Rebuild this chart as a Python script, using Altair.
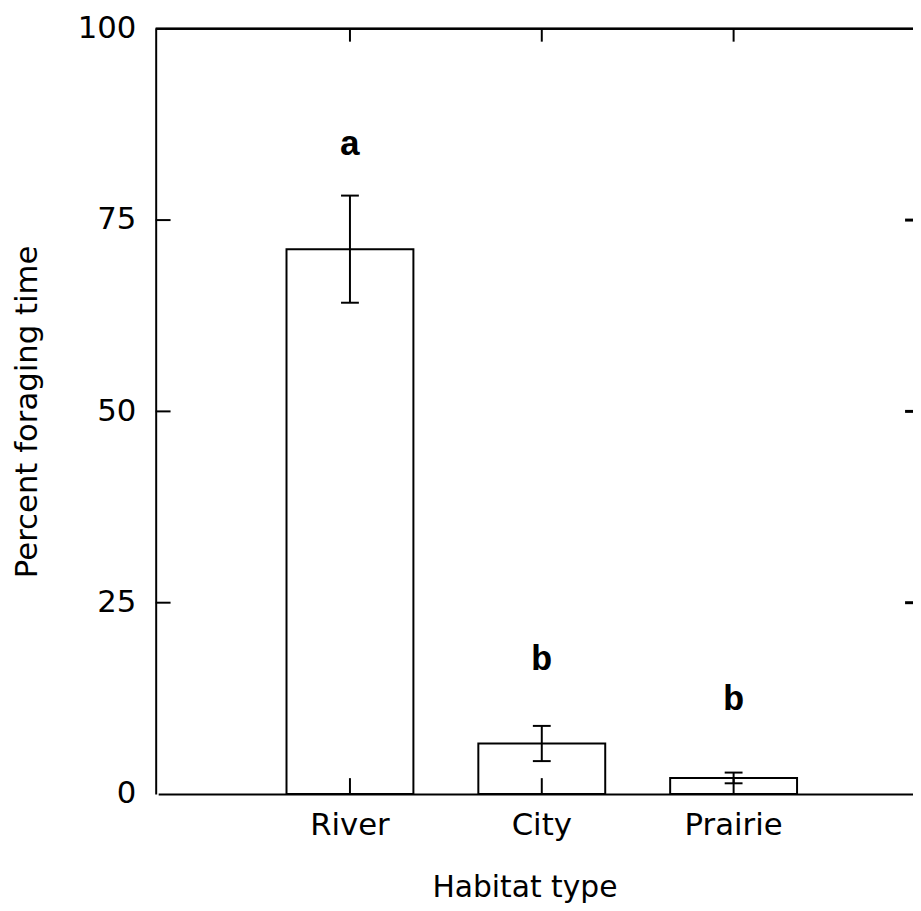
import altair as alt
import pandas as pd

habitats = ["River", "City", "Prairie"]
means = [71.2, 6.6, 2.1]
sems = [7.0, 2.3, 0.7]
letters = ["a", "b", "b"]
letter_y = [83.5, 16.2, 11.0]
y_tick_values = [0, 25, 50, 75, 100]
inner_tick_values = [25, 50, 75]

df = pd.DataFrame({
    "habitat": habitats,
    "mean": means,
    "low": [m - s for m, s in zip(means, sems)],
    "high": [m + s for m, s in zip(means, sems)],
    "letter": letters,
    "ly": letter_y,
})
ticks_df = pd.DataFrame({"v": inner_tick_values})

W, H = 764, 772
FONT = "DejaVu Sans"

xscale = alt.Scale(domain=habitats, range=[2.5, 776.5], paddingInner=0.3385, paddingOuter=0.669)
yscale = alt.Scale(domain=[0, 100], nice=False)

x_enc = alt.X("habitat:N", scale=xscale, sort=habitats,
              axis=alt.Axis(title="Habitat type", labelAngle=0, ticks=False, tickSize=0,
                            labelPadding=17, titleX=372, titleY=103,
                            titleBaseline="alphabetic", titleFontWeight="normal",
                            labelFont=FONT, labelFontSize=31, labelColor="black",
                            titleFont=FONT, titleFontSize=30, titleColor="black",
                            domainColor="black", domainWidth=2))
y_enc = alt.Y("mean:Q", scale=yscale,
              axis=alt.Axis(title="Percent foraging time", values=y_tick_values, ticks=False,
                            tickSize=0, labelPadding=20, grid=False, titleX=-120, titleY=386,
                            titleAngle=270, titleAlign="center", titleBaseline="alphabetic",
                            titleFontWeight="normal",
                            labelFont=FONT, labelFontSize=31, labelColor="black",
                            titleFont=FONT, titleFontSize=31, titleColor="black",
                            domainColor="black", domainWidth=2))

base = alt.Chart(df)

bars = base.mark_bar(fill="white", stroke="black", strokeWidth=2).encode(x=x_enc, y=y_enc)

err = base.mark_rule(color="black", strokeWidth=2).encode(
    x=alt.X("habitat:N", scale=xscale, sort=habitats),
    y=alt.Y("low:Q", scale=yscale),
    y2="high:Q",
)
cap_lo = base.mark_tick(color="black", size=18, thickness=2, opacity=1).encode(
    x=alt.X("habitat:N", scale=xscale, sort=habitats),
    y=alt.Y("low:Q", scale=yscale),
)
cap_hi = base.mark_tick(color="black", size=18, thickness=2, opacity=1).encode(
    x=alt.X("habitat:N", scale=xscale, sort=habitats),
    y=alt.Y("high:Q", scale=yscale),
)
text = base.mark_text(font="Liberation Mono", fontWeight="bold", fontSize=36,
                      baseline="alphabetic", align="center", color="black").encode(
    x=alt.X("habitat:N", scale=xscale, sort=habitats),
    y=alt.Y("ly:Q", scale=yscale),
    text="letter:N",
)

top_ticks = base.mark_rule(color="black", strokeWidth=2).encode(
    x=alt.X("habitat:N", scale=xscale, sort=habitats),
    y=alt.value(0), y2=alt.value(13),
)
bottom_ticks = base.mark_rule(color="black", strokeWidth=2).encode(
    x=alt.X("habitat:N", scale=xscale, sort=habitats),
    y=alt.value(H), y2=alt.value(H - 16),
)
left_ticks = alt.Chart(ticks_df).mark_rule(color="black", strokeWidth=2).encode(
    y=alt.Y("v:Q", scale=yscale), x=alt.value(0), x2=alt.value(15),
)
right_ticks = alt.Chart(ticks_df).mark_rule(color="black", strokeWidth=3).encode(
    y=alt.Y("v:Q", scale=yscale), x=alt.value(W - 8), x2=alt.value(W),
)
top_line = base.mark_rule(color="black", strokeWidth=2).encode(
    x=alt.value(0), x2=alt.value(W), y=alt.value(0),
)

chart = alt.layer(
    bars, err, cap_lo, cap_hi, text, top_ticks, bottom_ticks, left_ticks, right_ticks, top_line
).properties(
    width=W, height=H,
    padding={"left": 149, "top": 17, "right": 0, "bottom": 106},
    autosize="none",
    background="white",
).configure_view(stroke=None)

chart.save("out.html", embed_options={"renderer": "svg", "actions": False})
